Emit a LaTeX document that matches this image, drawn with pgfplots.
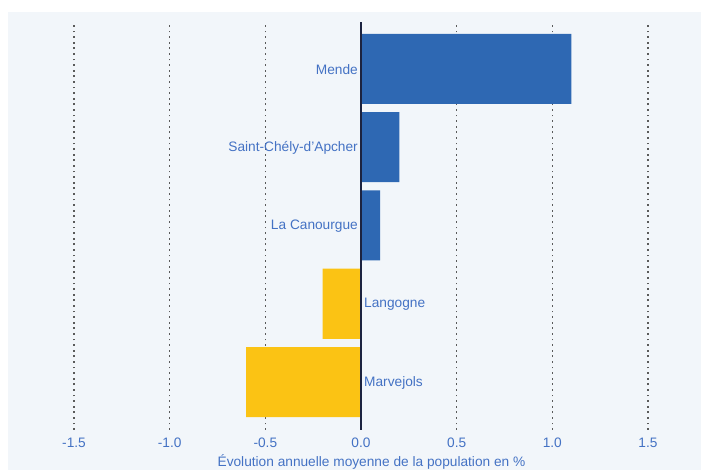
\documentclass[border=0pt]{standalone}
\usepackage{pgfplots}
\pgfplotsset{compat=1.18}
\usepackage{fontspec}
\setmainfont{Liberation Sans}
\definecolor{bgc}{HTML}{F2F6FA}
\definecolor{barblue}{HTML}{2E68B3}
\definecolor{baryel}{HTML}{FBC314}
\definecolor{txtblue}{HTML}{4472C4}
\definecolor{zeroc}{HTML}{1C2340}
\definecolor{gridc}{HTML}{5A5A5A}
\begin{document}
\begin{tikzpicture}
\fill[white] (0pt,0pt) rectangle (701pt,470pt);
\fill[bgc] (8pt,0pt) rectangle (701pt,458pt);
\useasboundingbox (0pt,0pt) rectangle (701pt,470pt);
\begin{axis}[
  at={(8pt,40pt)}, anchor=south west,
  scale only axis, width=693pt, height=408pt,
  xmin=-1.845, xmax=1.777, ymin=-0.613, ymax=4.6,
  axis line style={draw=none},
  ytick=\empty,
  xtick={-1.5,-1,-0.5,0,0.5,1,1.5},
  xticklabels={-1.5,-1.0,-0.5,0.0,0.5,1.0,1.5},
  major tick length=0pt,
  xmajorgrids,
  grid style={draw=gridc, line width=1.1pt, dash pattern=on 1.7pt off 3.9pt},
  xticklabel style={anchor=base, inner sep=0pt, yshift=-17.5pt, text=txtblue, font=\fontsize{13.7}{16}\selectfont},
  xlabel={Évolution annuelle moyenne de la population en \%},
  xlabel style={at={(axis description cs:0.5245,0)}, anchor=base, inner sep=0pt, yshift=-36.5pt, text=txtblue, font=\fontsize{13.7}{16}\selectfont},
  xbar, bar width=70pt, bar shift=0pt,
  clip=false,
]
\addplot[fill=barblue, draw=none] coordinates {(1.1,4) (0.2,3) (0.1,2)};
\addplot[fill=baryel, draw=none] coordinates {(-0.2,1) (-0.6,0)};
\draw[zeroc, line width=1.3pt] (axis cs:0,-0.613) -- (axis cs:0,4.6);
\begin{scope}[every node/.style={text=txtblue, font=\fontsize{13.7}{16}\selectfont, inner sep=0pt}]
\node[anchor=east] at ([xshift=-3pt,yshift=-0.8pt]axis cs:0,4) {Mende};
\node[anchor=east] at ([xshift=-3pt,yshift=-0.8pt]axis cs:0,3) {Saint-Chély-d'Apcher};
\node[anchor=east] at ([xshift=-3pt,yshift=-0.8pt]axis cs:0,2) {La Canourgue};
\node[anchor=west] at ([xshift=3pt,yshift=-0.8pt]axis cs:0,1) {Langogne};
\node[anchor=west] at ([xshift=3pt,yshift=-0.8pt]axis cs:0,0) {Marvejols};
\end{scope}
\end{axis}
\end{tikzpicture}
\end{document}
